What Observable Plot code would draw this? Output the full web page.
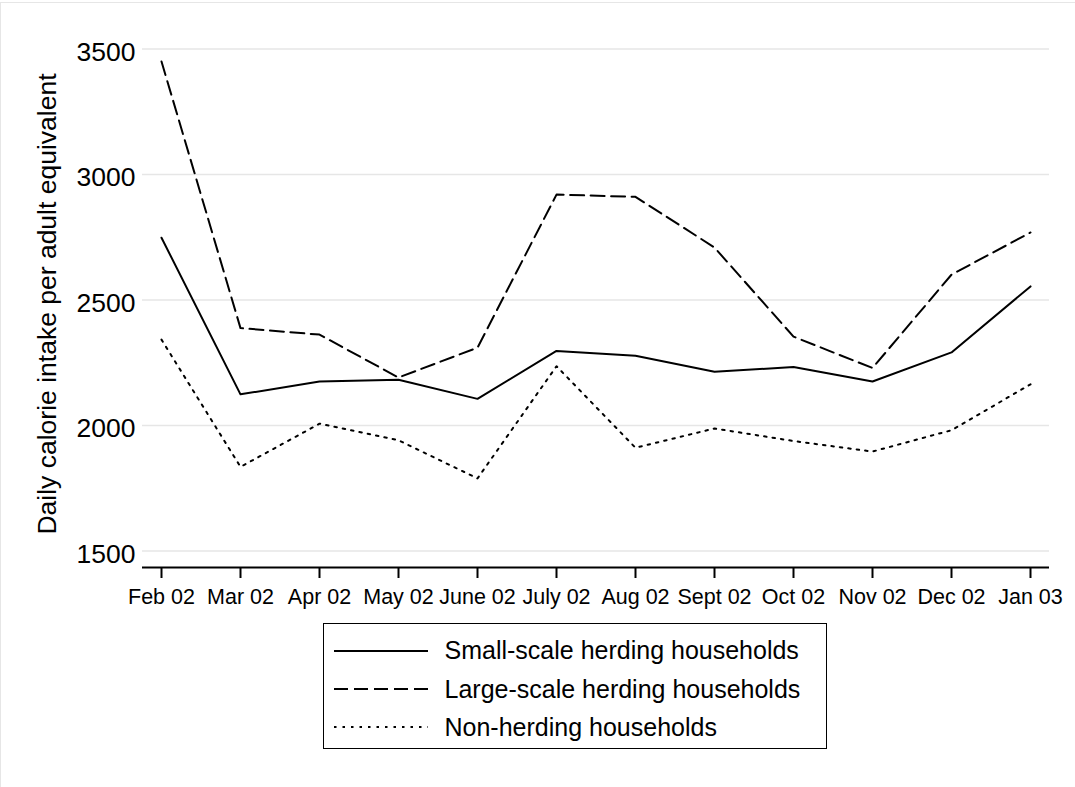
<!DOCTYPE html>
<html><head><meta charset="utf-8">
<script src="https://cdn.jsdelivr.net/npm/d3@7"></script>
<script src="https://cdn.jsdelivr.net/npm/@observablehq/plot@0.6"></script>
<style>
body{margin:0;background:#fff;font-family:"Liberation Sans",Arial,Helvetica,sans-serif;}
#page{position:relative;width:1075px;height:787px;overflow:hidden;background:#fff;}
#border{position:absolute;left:0;top:1.5px;width:1200px;height:900px;border-top:1px solid #e6e6e6;border-left:1px solid #e6e6e6;z-index:5;pointer-events:none;}
#chart{position:absolute;left:0;top:0;}
#legend{position:absolute;left:322.5px;top:622.5px;width:504px;height:126px;border:1.5px solid #000;box-sizing:border-box;background:#fff;}
.sample{position:absolute;left:10px;}
.ltext{position:absolute;left:121px;font-size:25px;line-height:25px;white-space:nowrap;color:#000;}
</style>
</head><body>
<div id="page"><div id="chart"></div><div id="legend"></div><div id="border"></div></div>
<script>
const months = ["Feb 02","Mar 02","Apr 02","May 02","June 02","July 02","Aug 02","Sept 02","Oct 02","Nov 02","Dec 02","Jan 03"];
const smallScale = [2748, 2124, 2175, 2182, 2106, 2297, 2278, 2214, 2233, 2175, 2291, 2554];
const largeScale = [3450, 2388, 2362, 2191, 2310, 2920, 2911, 2709, 2354, 2229, 2601, 2769];
const nonHerding = [2342, 1835, 2007, 1941, 1789, 2236, 1911, 1988, 1938, 1896, 1981, 2164];
const yTicks = [1500, 2000, 2500, 3000, 3500];
const seriesNames = ["Small-scale herding households", "Large-scale herding households", "Non-herding households"];
const yLabel = "Daily calorie intake per adult equivalent";

const rows = months.map((m, i) => ({month: m, small: smallScale[i], large: largeScale[i], non: nonHerding[i]}));
const dashes = [null, "14,6.5", "2.5,6"];

const chart = Plot.plot({
  width: 1075, height: 615,
  marginLeft: 142, marginRight: 26, marginTop: 40, marginBottom: 48,
  style: {fontFamily: '"Liberation Sans", Arial, sans-serif', background: "white", overflow: "visible", color: "black"},
  x: {type: "point", domain: months, padding: 0.21},
  y: {domain: [1434, 3534]},
  marks: [
    Plot.gridY(yTicks, {stroke: "#e6e6e6", strokeOpacity: 1, strokeWidth: 1.6}),
    Plot.axisY(yTicks, {tickSize: 0, tickPadding: 7, fontSize: 26.5, dy: 3.5, label: null, tickFormat: d => String(d)}),
    Plot.axisX({tickSize: 11, tickPadding: 10, fontSize: 21.5, strokeWidth: 2, label: null}),
    Plot.ruleY([1434], {stroke: "black", strokeWidth: 2}),
    Plot.line(rows, {x: "month", y: "small", stroke: "black", strokeWidth: 2}),
    Plot.line(rows, {x: "month", y: "large", stroke: "black", strokeWidth: 2, strokeDasharray: dashes[1]}),
    Plot.line(rows, {x: "month", y: "non", stroke: "black", strokeWidth: 2, strokeDasharray: dashes[2]}),
    Plot.text([yLabel], {text: d => d, frameAnchor: "left", dx: -87, rotate: -90, lineAnchor: "bottom", textAnchor: "middle", fontSize: 26.5, fill: "black"})
  ]
});
document.getElementById("chart").appendChild(chart);

const legend = document.getElementById("legend");
const centers = [27, 65.3, 103.3];
seriesNames.forEach((name, i) => {
  const svgNS = "http://www.w3.org/2000/svg";
  const s = document.createElementNS(svgNS, "svg");
  s.setAttribute("width", 94); s.setAttribute("height", 10);
  s.setAttribute("class", "sample");
  s.style.top = (centers[i] - 5) + "px";
  const ln = document.createElementNS(svgNS, "line");
  ln.setAttribute("x1", 0); ln.setAttribute("x2", 94); ln.setAttribute("y1", 5); ln.setAttribute("y2", 5);
  ln.setAttribute("stroke", "black"); ln.setAttribute("stroke-width", 2);
  if (dashes[i]) ln.setAttribute("stroke-dasharray", i === 1 ? "14,6" : "2.5,6");
  s.appendChild(ln);
  legend.appendChild(s);
  const t = document.createElement("span");
  t.className = "ltext";
  t.textContent = name;
  t.style.top = (centers[i] - 12.25) + "px";
  legend.appendChild(t);
});
</script>
</body></html>
